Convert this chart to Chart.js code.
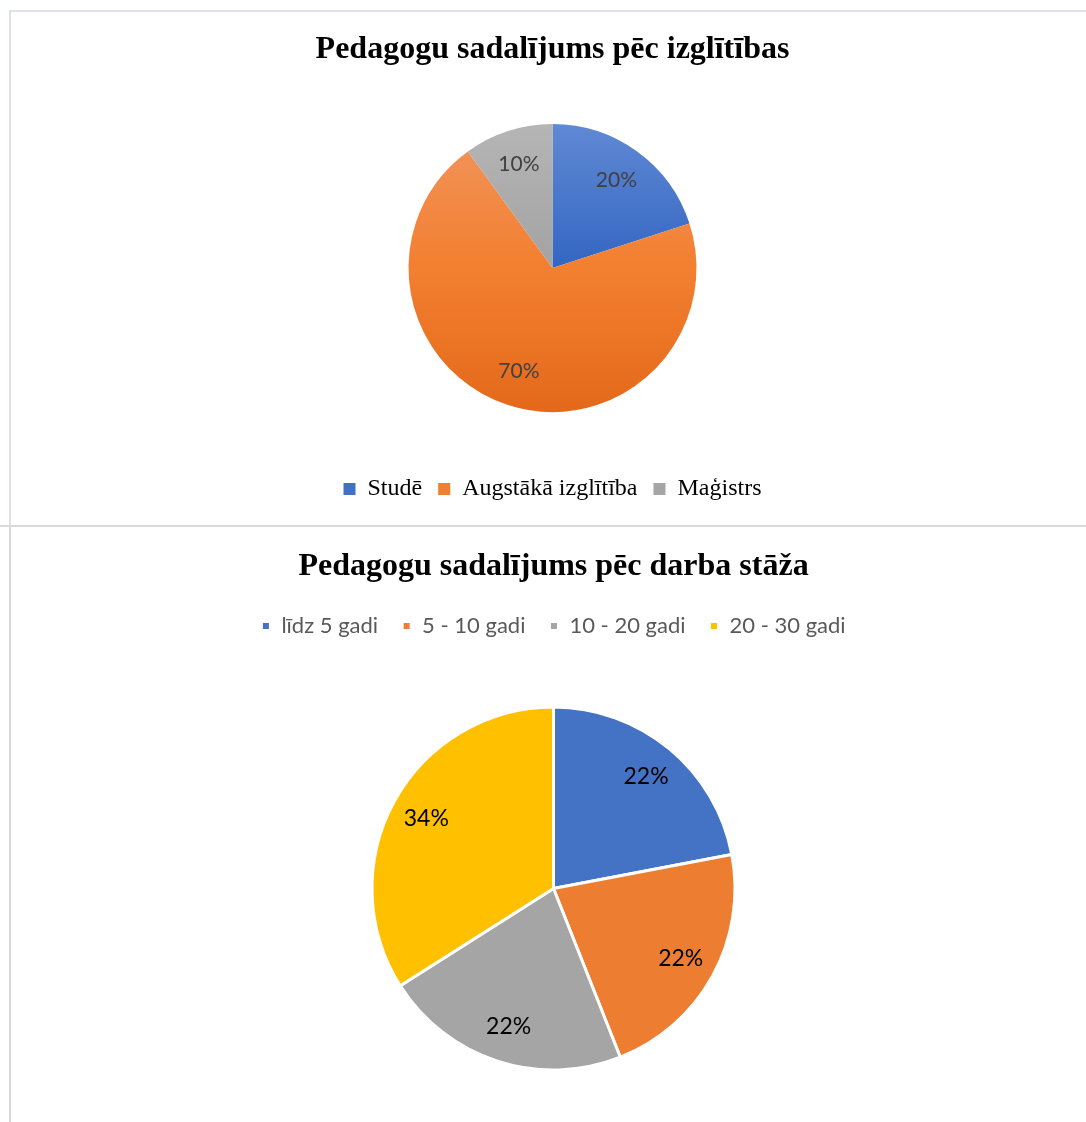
<!DOCTYPE html>
<html>
<head>
<meta charset="utf-8">
<script src="https://cdn.jsdelivr.net/npm/chart.js@4.4.1/dist/chart.umd.min.js"></script>
<style>
  html, body { margin: 0; padding: 0; background: #fff; overflow: hidden; }
  body { width: 1086px; height: 1122px; position: relative; }
  .box { position: absolute; }
  #topFrame { left: 9px; top: 10px; right: 0; height: 515px; border-top: 2px solid #dfe2e8; border-left: 2px solid #dfe2e8; }
  #sep { left: 0; right: 0; top: 525px; height: 2px; background: #d9d9d9; }
  #botFrame { left: 9px; top: 527px; bottom: 0; width: 2px; background: #d9d9d9; }
  #eduWrap { position: absolute; left: 0; top: 0; width: 1086px; height: 526px; }
  #stazsWrap { position: absolute; left: 0; top: 526px; width: 1086px; height: 620px; }
</style>
</head>
<body>
<div class="box" id="topFrame"></div>
<div class="box" id="sep"></div>
<div class="box" id="botFrame"></div>
<div id="eduWrap"><canvas id="eduChart"></canvas></div>
<div id="stazsWrap"><canvas id="stazsChart"></canvas></div>
<script>
// chart 1: education
const eduTitle = "Pedagogu sadalījums pēc izglītības";
const eduLabels = ["Studē", "Augstākā izglītība", "Maģistrs"];
const eduValues = [20, 70, 10];

// chart 2: work experience
const stazsTitle = "Pedagogu sadalījums pēc darba stāža";
const stazsLabels = ["līdz 5 gadi", "5 - 10 gadi", "10 - 20 gadi", "20 - 30 gadi"];
const stazsValues = [22, 22, 22, 34];

// office-like gradient stops for the top pie
const eduStops = [
  ["#6189d4", "#3366c2", "#2a5ab3"],
  ["#f1955f", "#f37f30", "#e4691a"],
  ["#b5b5b5", "#a3a3a3", "#959595"]
];
const eduLegendColors = ["#4270c6", "#f07f2e", "#a5a5a5"];
const stazsColors = ["#4472c4", "#ed7d31", "#a5a5a5", "#ffc000"];

const EDU_RADIUS = 144;
const STAZS_RADIUS = 181.5;

// percentage labels inside the slices
const pctLabels = {
  id: "pctLabels",
  afterDatasetsDraw(chart, args, opts) {
    const ctx = chart.ctx;
    const meta = chart.getDatasetMeta(0);
    const vals = chart.data.datasets[0].data;
    const total = vals.reduce((a, b) => a + b, 0);
    ctx.save();
    ctx.font = opts.font;
    ctx.fillStyle = opts.color;
    ctx.textAlign = "center";
    ctx.textBaseline = "middle";
    meta.data.forEach((arc, i) => {
      const p = arc.getProps(["x", "y", "startAngle", "endAngle", "outerRadius"], true);
      const mid = (p.startAngle + p.endAngle) / 2;
      const r = p.outerRadius * opts.pos;
      ctx.fillText(Math.round(vals[i] / total * 100) + "%", p.x + Math.cos(mid) * r, p.y + Math.sin(mid) * r);
    });
    ctx.restore();
  }
};

function eduFill(context) {
  const chart = context.chart;
  const area = chart.chartArea;
  const stops = eduStops[context.dataIndex];
  if (!area) return stops[1];
  const cy = (area.top + area.bottom) / 2;
  const g = chart.ctx.createLinearGradient(0, cy - EDU_RADIUS, 0, cy + EDU_RADIUS);
  g.addColorStop(0, stops[0]);
  g.addColorStop(0.5, stops[1]);
  g.addColorStop(1, stops[2]);
  return g;
}

new Chart(document.getElementById("eduChart"), {
  type: "pie",
  data: {
    labels: eduLabels,
    datasets: [{
      data: eduValues,
      backgroundColor: eduFill,
      borderWidth: 0,
      hoverOffset: 0,
      radius: EDU_RADIUS
    }]
  },
  options: {
    responsive: true,
    maintainAspectRatio: false,
    animation: false,
    layout: { padding: { left: 19, bottom: 15 } },
    plugins: {
      title: {
        display: true,
        text: eduTitle,
        color: "#000",
        font: { family: "'Liberation Serif', 'Times New Roman', serif", size: 32, weight: "bold", lineHeight: 1.2 },
        padding: { top: 30.8, bottom: 5.8 }
      },
      legend: {
        position: "bottom",
        labels: {
          color: "#000",
          font: { family: "'Liberation Serif', 'Times New Roman', serif", size: 24 },
          boxWidth: 12,
          boxHeight: 12,
          padding: 16,
          generateLabels: (chart) => eduLabels.map((t, i) => ({
            text: t,
            fillStyle: eduLegendColors[i],
            strokeStyle: eduLegendColors[i],
            lineWidth: 0,
            fontColor: "#000",
            index: i
          }))
        }
      },
      tooltip: { enabled: false },
      pctLabels: { font: "21px Lato", color: "#404040", pos: 0.755 }
    }
  },
  plugins: [pctLabels]
});

new Chart(document.getElementById("stazsChart"), {
  type: "pie",
  data: {
    labels: stazsLabels,
    datasets: [{
      data: stazsValues,
      backgroundColor: stazsColors,
      borderColor: "#fff",
      borderWidth: 3,
      hoverOffset: 0,
      radius: STAZS_RADIUS
    }]
  },
  options: {
    responsive: true,
    maintainAspectRatio: false,
    animation: false,
    layout: { padding: { left: 21, bottom: 16 } },
    plugins: {
      title: {
        display: true,
        text: stazsTitle,
        color: "#000",
        font: { family: "'Liberation Serif', 'Times New Roman', serif", size: 32, weight: "bold", lineHeight: 1.2 },
        padding: { top: 21.8, bottom: 4.8 }
      },
      legend: {
        position: "top",
        labels: {
          color: "#595959",
          font: { family: "Lato, sans-serif", size: 22 },
          boxWidth: 9,
          boxHeight: 9,
          padding: 24
        }
      },
      tooltip: { enabled: false },
      pctLabels: { font: "23px Lato", color: "#000", pos: 0.8 }
    }
  },
  plugins: [pctLabels]
});
</script>
</body>
</html>
